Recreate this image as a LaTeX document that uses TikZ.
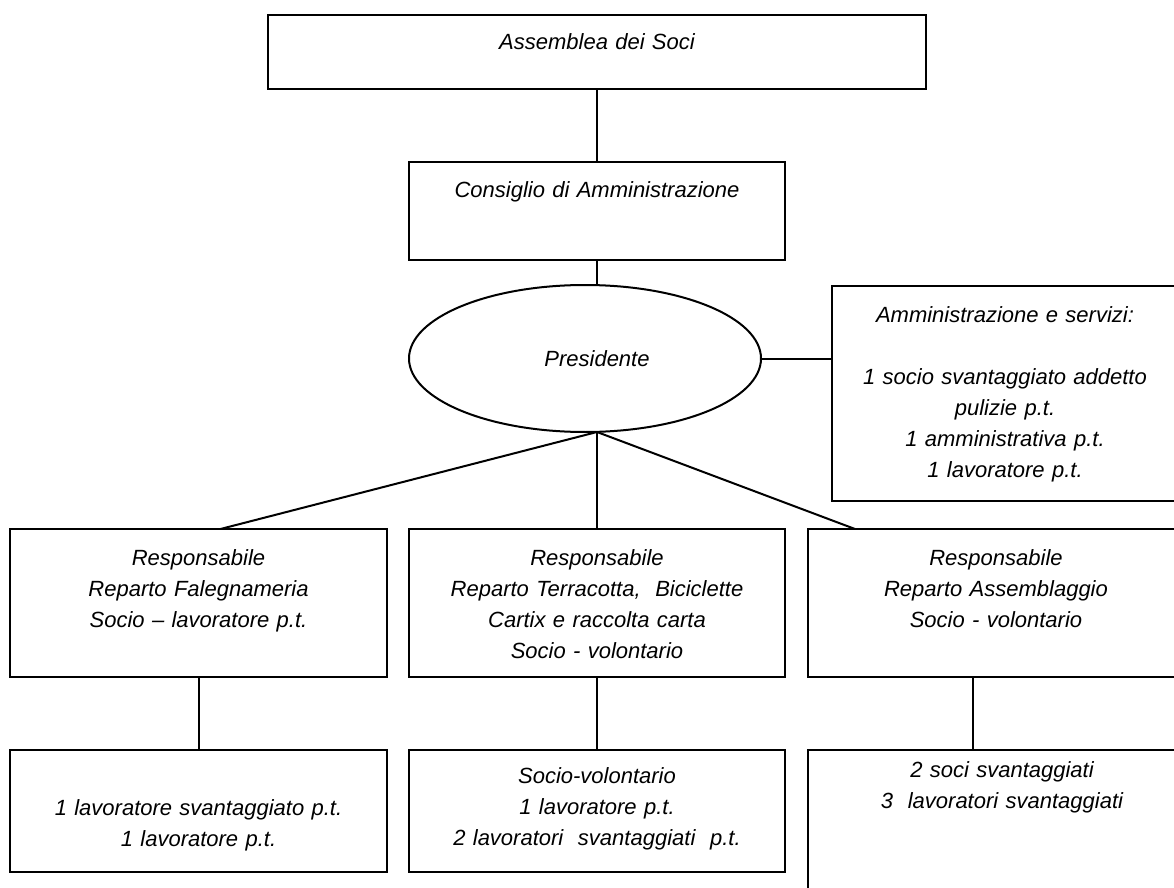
\documentclass[tikz,border=0pt]{standalone}
\usepackage{fontspec}
\setmainfont{Liberation Sans}
\usetikzlibrary{positioning,shapes.geometric}

\begin{document}
\begin{tikzpicture}[font=\fontsize{11}{15.5}\selectfont\itshape]
\tikzstyle{box}=[rectangle, draw=black, line width=1pt, inner sep=0pt, outer sep=0pt, align=center]
\tikzstyle{oval}=[ellipse, draw=black, line width=1pt, inner sep=0pt, outer sep=0pt]
\tikzstyle{connect}=[line width=1pt]
\useasboundingbox (0,0) rectangle (587pt,-444pt);

\node[box, text width=329pt, text height=17.5pt, text depth=19.5pt] (assemblea) at (298.5pt,-26pt) {Assemblea dei Soci};
\node[box, text width=188pt, text height=18pt, text depth=31pt] (consiglio) [below=36.5pt of assemblea] {Consiglio di Amministrazione};
\node[oval, minimum width=176pt, minimum height=73.5pt] (presidente) [below=12.5pt of consiglio, xshift=-6pt] {\hspace{12pt}Presidente};
\node[box, text width=173pt, text height=18.5pt, text depth=89pt, anchor=north west, xshift=35.5pt, yshift=36.5pt] (admin) at (presidente.east) {Amministrazione e servizi:\\[15.5pt] 1 socio svantaggiato addetto\\ pulizie p.t.\\ 1 amministrativa p.t.\\ 1 lavoratore p.t.};

\node[box, text width=188pt, text height=18pt, text depth=56pt] (resp_ter) [below=48.5pt of presidente, xshift=6pt] {Responsabile\\ Reparto Terracotta, \ Biciclette\\ Cartix e raccolta carta\\ Socio - volontario};
\node[box, text width=188.5pt, text height=18pt, text depth=56pt] (resp_fal) [left=11pt of resp_ter] {Responsabile\\ Reparto Falegnameria\\ Socio -- lavoratore p.t.};
\node[box, text width=188pt, text height=18pt, text depth=56pt] (resp_ass) [right=11.5pt of resp_ter] {Responsabile\\ Reparto Assemblaggio\\ Socio - volontario};

\node[box, text width=188pt, text height=16.5pt, text depth=44.5pt] (lav_ter) [below=36.5pt of resp_ter] {Socio-volontario\\ 1 lavoratore p.t.\\ 2 lavoratori \ svantaggiati \ p.t.};
\node[box, text width=188.5pt, text height=32.5pt, text depth=28.5pt] (lav_fal) [left=11pt of lav_ter] {1 lavoratore svantaggiato p.t.\\ 1 lavoratore p.t.};
\node[box, text width=194pt, text height=13.5pt, text depth=61.5pt] (lav_ass) [below=36.5pt of resp_ass.south west, anchor=north west] {2 soci svantaggiati\\ 3 \ lavoratori svantaggiati};

\coordinate (pres_foot) at (consiglio.south |- presidente.south);
\coordinate (ass_foot) at ([xshift=-11.5pt]resp_ass.south);

\path
(assemblea.south) edge [connect] (consiglio.north)
(consiglio.south) edge [connect] (consiglio.south |- presidente.north)
(presidente.east) edge [connect] (presidente.east -| admin.west)

(pres_foot) edge [connect] ([xshift=11pt]resp_fal.north)
(pres_foot) edge [connect] (resp_ter.north)
(pres_foot) edge [connect] ([xshift=-70.5pt]resp_ass.north)

(resp_fal.south) edge [connect] (lav_fal.north)
(resp_ter.south) edge [connect] (lav_ter.north)
(ass_foot) edge [connect] (ass_foot |- lav_ass.north);
\end{tikzpicture}
\end{document}
